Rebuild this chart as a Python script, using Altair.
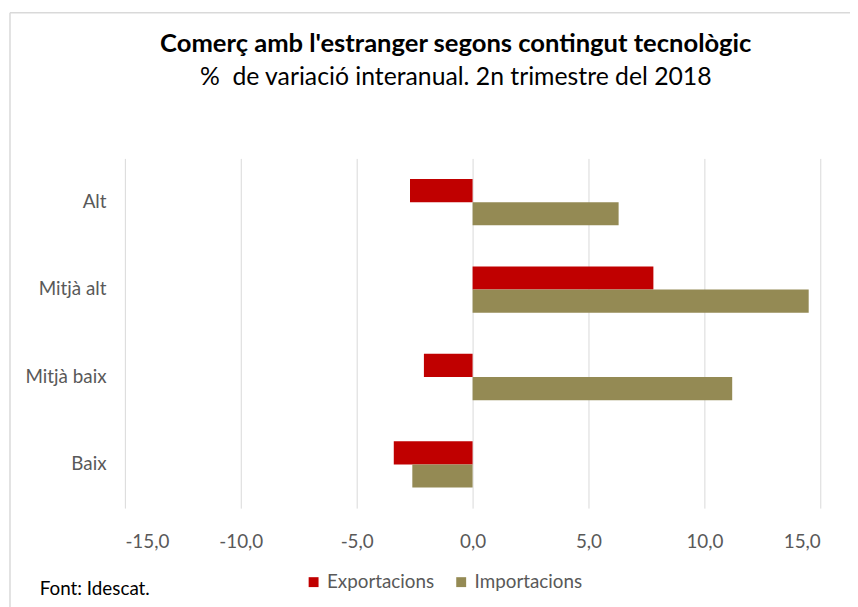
import altair as alt
import pandas as pd

categories = ["Alt", "Mitjà alt", "Mitjà baix", "Baix"]
series = ["Exportacions", "Importacions"]
exportacions = [-2.7, 7.8, -2.1, -3.4]
importacions = [6.3, 14.5, 11.2, -2.6]
colors = ["#C00000", "#948A54"]
x_ticks = [-15, -10, -5, 0, 5, 10, 15]
title = "Comerç amb l'estranger segons contingut tecnològic"
subtitle = "%\u00a0 de variació interanual. 2n trimestre del 2018"
source = "Font: Idescat."

rows = []
for c, e, i in zip(categories, exportacions, importacions):
    rows.append({"cat": c, "serie": series[0], "val": e})
    rows.append({"cat": c, "serie": series[1], "val": i})
df = pd.DataFrame(rows)

FONT = "Lato"
W, H = 702, 353

bars = alt.Chart(df).mark_bar().encode(
    y=alt.Y("cat:N", sort=categories,
            scale=alt.Scale(paddingInner=0.47, paddingOuter=0.235),
            axis=alt.Axis(title=None, domain=False, ticks=False, grid=False,
                          labelFontSize=19, labelColor="#595959", labelFont=FONT,
                          labelPadding=19)),
    yOffset=alt.YOffset("serie:N", sort=series,
                        scale=alt.Scale(paddingInner=0, paddingOuter=0)),
    x=alt.X("val:Q", scale=alt.Scale(domain=[-15, 15], nice=False),
            axis=alt.Axis(title=None, domain=False, ticks=False, grid=True,
                          values=x_ticks, gridColor="#D9D9D9", gridWidth=1,
                          labelExpr="(datum.value < 0 ? '-' : '') + replace(format(abs(datum.value), '.1f'), '.', ',')",
                          labelFontSize=19, labelColor="#595959", labelFont=FONT,
                          labelPadding=25)),
    color=alt.Color("serie:N", sort=series,
                    scale=alt.Scale(domain=series, range=colors),
                    legend=alt.Legend(title=None, orient="none", direction="horizontal",
                                      legendX=181, legendY=418,
                                      symbolType="square", symbolSize=100,
                                      symbolStrokeWidth=0,
                                      labelFontSize=19, labelColor="#595959",
                                      labelFont=FONT, columnPadding=17,
                                      labelOffset=4)),
)

src = alt.Chart(pd.DataFrame({"t": [source]})).mark_text(
    align="left", baseline="alphabetic", fontSize=19, font=FONT, color="#000000"
).encode(text="t:N", x=alt.value(-86), y=alt.value(441))

frame_top = alt.Chart(pd.DataFrame({"a": [0]})).mark_rule(
    color="#D9D9D9", strokeWidth=1.5
).encode(x=alt.value(-116), x2=alt.value(740), y=alt.value(-147))
frame_left = alt.Chart(pd.DataFrame({"a": [0]})).mark_rule(
    color="#D9D9D9", strokeWidth=1.5
).encode(x=alt.value(-116), y=alt.value(-147), y2=alt.value(460))

chart = alt.layer(frame_top, frame_left, bars, src).properties(
    width=W, height=H,
    title=alt.TitleParams(
        text=title, subtitle=subtitle, anchor="middle", dx=-17,
        font=FONT, fontSize=25.8, fontWeight="bold", color="#000000",
        subtitleFont=FONT, subtitleFontSize=25, subtitleColor="#000000",
        subtitlePadding=8, offset=-80,
    ),
    autosize=alt.AutoSizeParams(type="none"),
    padding={"left": 118, "top": 149, "right": 30, "bottom": 97},
).configure_view(stroke=None)

chart.save("out.html", embed_options={"renderer": "svg", "actions": False})
